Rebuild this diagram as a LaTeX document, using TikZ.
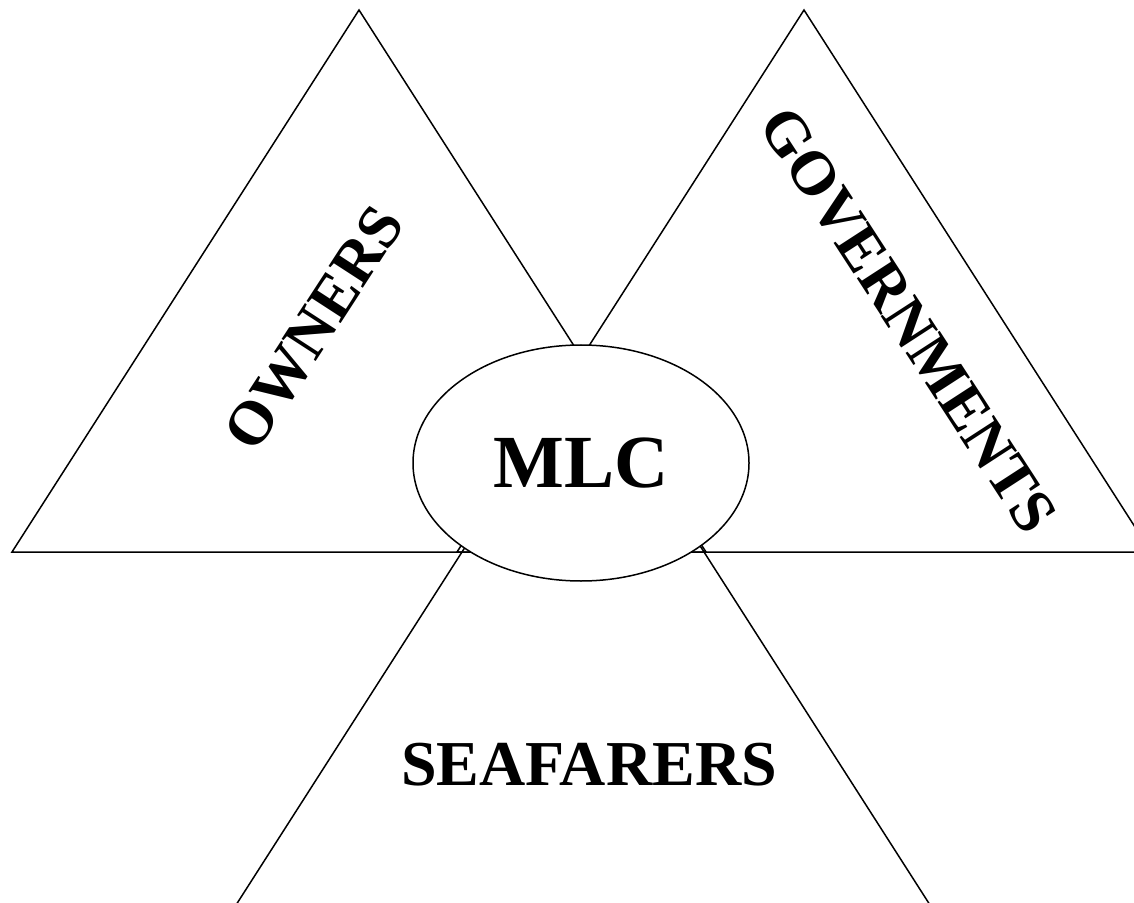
\documentclass[tikz,border=0pt]{standalone}
\usepackage{fontspec}
\setmainfont{Liberation Serif}
\usetikzlibrary{shapes.geometric}

\begin{document}
\begin{tikzpicture}[x=0.5pt,y=-0.5pt]
\tikzset{side/.style={line width=0.75pt},
  word/.style={font=\bfseries\fontsize{31}{37}\selectfont}}
\clip (0,0) rectangle (1134,903);

% the three triangles
\coordinate (oTop) at (359,10);
\coordinate (oLeft) at (12,552);
\coordinate (oRight) at (706,552);
\coordinate (gTop) at (804,10);
\coordinate (gLeft) at (457,552);
\coordinate (gRight) at (1151,552);
\coordinate (sTop) at (583,363);
\coordinate (sLeft) at (236,905);
\coordinate (sRight) at (930,905);

\draw[side] (oTop) -- (oLeft) -- (oRight) -- cycle;
\draw[side] (gTop) -- (gLeft) -- (gRight) -- cycle;
\draw[side] (sTop) -- (sLeft) -- (sRight) -- cycle;

\node [word,rotate=57] (owners) at (314,328) {OWNERS};
\node [word,rotate=-57] (govs) at (908,320) {GOVERNMENTS};
\node [word,font=\bfseries\fontsize{32}{38}\selectfont] (sea) at (589,765) {SEAFARERS};

% centre
\node [draw,side,ellipse,fill=white,inner sep=0pt,minimum width=168pt,minimum height=118pt,
  font=\bfseries\fontsize{37.5}{45}\selectfont] (mlc) at (581,463) {\raisebox{-2pt}{MLC}};

\end{tikzpicture}
\end{document}
